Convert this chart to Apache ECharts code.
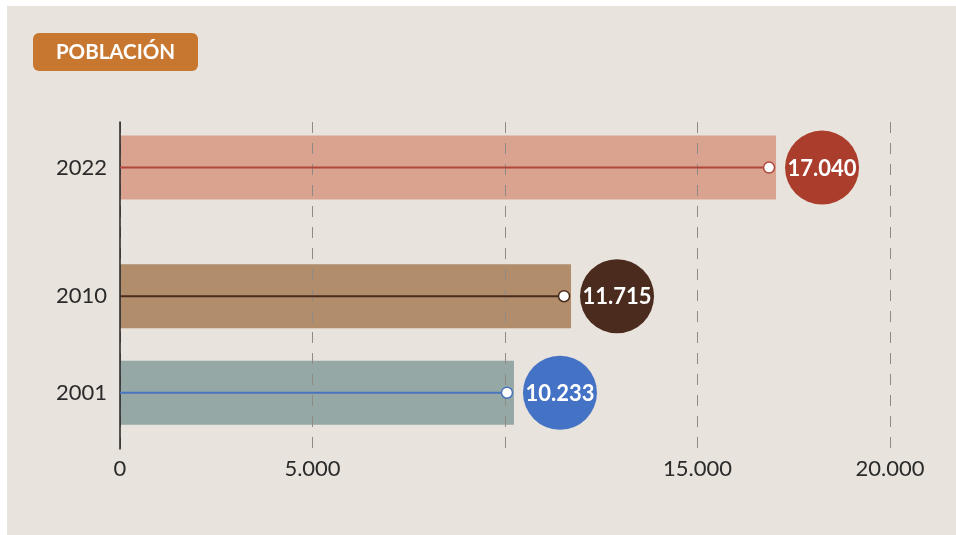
<!DOCTYPE html>
<html>
<head>
<meta charset="utf-8">
<script src="https://cdn.jsdelivr.net/npm/echarts@6/dist/echarts.min.js"></script>
<style>
  html, body { margin: 0; padding: 0; background: #ffffff; width: 956px; height: 535px; overflow: hidden; }
  #main { position: absolute; left: 7px; top: 6px; width: 949px; height: 529px; background: #e8e3dc; }
</style>
</head>
<body>
<div id="main"></div>
<script>
// ---- data ----
const years = [2022, 2010, 2001];
const population = [17040, 11715, 10233];
const xTickValues = [0, 5000, 10000, 15000, 20000];
const xTickLabels = ['0', '5.000', '', '15.000', '20.000'];
const yTickLabels = ['2001', '2010', '2022'];
const titleText = 'POBLACIÓN';

// ---- styles ----
const barColors = ['#d9a390', '#b18d6b', '#95a8a6'];
const lineColors = ['#b0473a', '#4a2c1d', '#4a73bd'];
const circleColors = ['#ab3d2c', '#4a2b1e', '#4472c4'];

function fmt(v) {
  return String(v).replace(/\B(?=(\d{3})+(?!\d))/g, '.');
}

const chart = echarts.init(document.getElementById('main'));
const data = years.map((y, i) => [population[i], y]);

chart.setOption({
  backgroundColor: 'transparent',
  animation: false,
  textStyle: { fontFamily: 'Lato' },
  grid: { left: 113, right: 66, top: 116, bottom: 86, containLabel: false },
  xAxis: {
    type: 'value',
    min: 0, max: 20000, interval: 5000,
    z: 3,
    axisLine: { show: false },
    axisTick: { show: false },
    splitLine: { show: true, lineStyle: { color: '#8f8a84', width: 1, type: [11, 10] } },
    axisLabel: {
      margin: 9,
      fontSize: 22,
      color: '#2b2b2b',
      fontFamily: 'Lato',
      formatter: function (v) {
        const k = xTickValues.indexOf(v);
        return k >= 0 ? xTickLabels[k] : '';
      }
    }
  },
  yAxis: {
    type: 'value',
    min: 1995.75, max: 2026.25,
    z: 3,
    axisLine: { show: true, onZero: false, lineStyle: { color: '#222', width: 1.5 } },
    axisTick: { show: false },
    splitLine: { show: false },
    axisLabel: {
      customValues: yTickLabels.map(Number),
      margin: 13,
      fontSize: 22,
      color: '#2b2b2b',
      fontFamily: 'Lato',
      formatter: function (v) { return String(v); }
    }
  },
  graphic: [{
    type: 'group', left: 26, top: 27,
    children: [
      { type: 'rect', shape: { x: 0, y: 0, width: 165, height: 38, r: 6 }, style: { fill: '#c87730' } },
      { type: 'text', x: 82.5, y: 19, style: { text: titleText, fill: '#ffffff', font: 'bold 20.5px Lato', align: 'center', verticalAlign: 'middle' } }
    ]
  }],
  series: [
    {
      type: 'custom',
      z: 1,
      data: data,
      renderItem: function (params, api) {
        const i = params.dataIndex;
        const v = api.value(0), yr = api.value(1);
        const p0 = api.coord([0, yr]);
        const p1 = api.coord([v, yr]);
        const h = 64;
        return {
          type: 'rect',
          shape: { x: p0[0], y: p0[1] - h / 2, width: p1[0] - p0[0], height: h },
          style: { fill: barColors[i] }
        };
      }
    },
    {
      type: 'custom',
      z: 5,
      data: data,
      renderItem: function (params, api) {
        const i = params.dataIndex;
        const v = api.value(0), yr = api.value(1);
        const p0 = api.coord([0, yr]);
        const p1 = api.coord([v, yr]);
        const mx = p1[0] - 7;
        const cx = p1[0] + 46;
        return {
          type: 'group',
          children: [
            { type: 'line', shape: { x1: p0[0], y1: p0[1], x2: mx, y2: p0[1] }, style: { stroke: lineColors[i], lineWidth: 2 } },
            { type: 'circle', shape: { cx: mx, cy: p0[1], r: 5.5 }, style: { fill: '#ffffff', stroke: lineColors[i], lineWidth: 1.5 } },
            { type: 'circle', shape: { cx: cx, cy: p0[1], r: 37 }, style: { fill: circleColors[i] } },
            { type: 'text', x: cx, y: p0[1] + 1, style: { text: fmt(v), fill: '#ffffff', font: 'bold 22px Lato', align: 'center', verticalAlign: 'middle' } }
          ]
        };
      }
    }
  ]
});
</script>
</body>
</html>
